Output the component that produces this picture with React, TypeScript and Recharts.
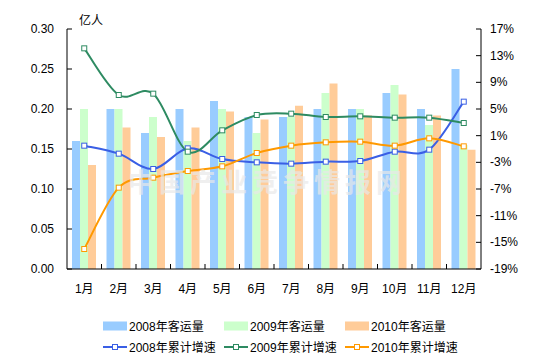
import React from 'react';
import { ComposedChart, Bar, Line, XAxis, YAxis, Legend } from 'recharts';

const months = ['1月', '2月', '3月', '4月', '5月', '6月', '7月', '8月', '9月', '10月', '11月', '12月'];
const pax2008 = [0.16, 0.2, 0.17, 0.2, 0.21, 0.19, 0.19, 0.2, 0.2, 0.22, 0.2, 0.25];
const pax2009 = [0.2, 0.2, 0.19, 0.16, 0.2, 0.17, 0.19, 0.22, 0.2, 0.23, 0.18, 0.155];
const pax2010 = [0.13, 0.177, 0.165, 0.177, 0.197, 0.187, 0.204, 0.232, 0.192, 0.218, 0.192, 0.149];
const growth2008 = [-0.5, -1.7, -4.0, -0.9, -2.5, -3.0, -3.2, -2.9, -2.8, -1.4, -1.1, 6.1];
const growth2009 = [14.1, 7.1, 7.3, -1.4, 1.8, 4.1, 4.3, 3.8, 3.9, 3.7, 3.7, 2.9];
const growth2010 = [-16.0, -6.8, -5.3, -4.3, -3.6, -1.6, -0.5, 0.0, 0.1, -0.5, 0.6, -0.6];
const leftTicks = [0, 0.05, 0.1, 0.15, 0.2, 0.25, 0.3];
const rightTicks = [-19, -15, -11, -7, -3, 1, 5, 9, 13, 17];

const data = months.map((m, i) => ({
  month: m,
  p2008: pax2008[i],
  p2009: pax2009[i],
  p2010: pax2010[i],
  g2008: growth2008[i],
  g2009: growth2009[i],
  g2010: growth2010[i],
}));

const FONT = '"Liberation Sans", Arial, "Noto Sans CJK SC", sans-serif';
const BAND = 414 / 12;

const barSeries = [
  { key: 'p2008', name: '2008年客运量', color: '#99CCFF' },
  { key: 'p2009', name: '2009年客运量', color: '#CCFFCC' },
  { key: 'p2010', name: '2010年客运量', color: '#FFCC99' },
];
const lineSeries = [
  { key: 'g2008', name: '2008年累计增速', color: '#3A5FE5' },
  { key: 'g2009', name: '2009年累计增速', color: '#2E8B62' },
  { key: 'g2010', name: '2010年累计增速', color: '#FF9900' },
];

const excelCurve = (context: any) => {
  let pts: [number, number][] = [];
  return {
    areaStart() {},
    areaEnd() {},
    lineStart() {
      pts = [];
    },
    lineEnd() {
      const n = pts.length;
      if (!n) return;
      context.moveTo(pts[0][0], pts[0][1]);
      const t = 1 / 6;
      for (let i = 0; i < n - 1; i++) {
        const p0 = pts[i - 1] || pts[i];
        const p1 = pts[i];
        const p2 = pts[i + 1];
        const p3 = pts[i + 2] || p2;
        context.bezierCurveTo(
          p1[0] + (p2[0] - p0[0]) * t,
          p1[1] + (p2[1] - p0[1]) * t,
          p2[0] - (p3[0] - p1[0]) * t,
          p2[1] - (p3[1] - p1[1]) * t,
          p2[0],
          p2[1]
        );
      }
    },
    point(x: number, y: number) {
      pts.push([x, y]);
    },
  };
};

const makeDot = (color: string) => (props: any) => {
  const { cx, cy, index } = props;
  if (cx == null || cy == null) return <g key={index} />;
  return (
    <rect key={index} x={cx - 2.5} y={cy - 2.5} width={5} height={5} fill="#fff" stroke={color} strokeWidth={1} />
  );
};

const LeftTick = (props: any) => {
  const { x, y, payload } = props;
  return (
    <g>
      <line x1={x} x2={x + 5} y1={y} y2={y} stroke="#000" />
      <text x={x - 13} y={y} dy={4} textAnchor="end" fontSize={12} fill="#000" fontFamily={FONT}>
        {Number(payload.value).toFixed(2)}
      </text>
    </g>
  );
};

const RightTick = (props: any) => {
  const { x, y, payload } = props;
  return (
    <g>
      <line x1={x - 5} x2={x} y1={y} y2={y} stroke="#000" />
      <text x={x + 9} y={y} dy={4} textAnchor="start" fontSize={12} fill="#000" fontFamily={FONT}>
        {`${payload.value}%`}
      </text>
    </g>
  );
};

const BottomTick = (props: any) => {
  const { x, y, payload, index } = props;
  return (
    <g>
      {index > 0 && <line x1={x - BAND / 2} x2={x - BAND / 2} y1={y} y2={y - 5} stroke="#000" />}
      <text x={x} y={y + 24} textAnchor="middle" fontSize={12} fill="#000" fontFamily={FONT}>
        {payload.value}
      </text>
    </g>
  );
};

const LegendContent = () => {
  const cell: React.CSSProperties = {
    display: 'flex',
    alignItems: 'center',
    height: 21,
    fontSize: 12,
    fontFamily: FONT,
    color: '#000',
    whiteSpace: 'nowrap',
  };
  return (
    <div style={{ display: 'grid', gridTemplateColumns: '121px 121px 121px', paddingLeft: 103 }}>
      {barSeries.map((s) => (
        <div key={s.key} style={cell}>
          <svg width={24} height={10} style={{ marginRight: 2 }}>
            <rect x={0} y={0.5} width={24} height={9} fill={s.color} />
          </svg>
          <span>{s.name}</span>
        </div>
      ))}
      {lineSeries.map((s) => (
        <div key={s.key} style={cell}>
          <svg width={24} height={10} style={{ marginRight: 2 }}>
            <line x1={0} x2={24} y1={5} y2={5} stroke={s.color} strokeWidth={2} />
            <rect x={9.5} y={2.5} width={5} height={5} fill="#fff" stroke={s.color} strokeWidth={1} />
          </svg>
          <span>{s.name}</span>
        </div>
      ))}
    </div>
  );
};

export default function App() {
  return (
    <div style={{ position: 'absolute', left: 0, top: 0, width: 544, height: 364, background: '#fff' }}>
      <div
        style={{
          position: 'absolute',
          left: 79,
          top: 11,
          fontSize: 12,
          fontFamily: FONT,
          color: '#000',
        }}
      >
        亿人
      </div>
      <ComposedChart
        width={544}
        height={364}
        data={data}
        margin={{ top: 29, right: 8, bottom: 65, left: 7 }}
        barGap={0}
      >
        <XAxis
          dataKey="month"
          xAxisId="x"
          interval={0}
          tickLine={false}
          tickSize={0}
          tickMargin={0}
          height={30}
          axisLine={{ stroke: '#000' }}
          tick={<BottomTick />}
        />
        <YAxis
          yAxisId="left"
          orientation="left"
          domain={[0, 0.3]}
          ticks={leftTicks}
          width={60}
          tickLine={false}
          tickSize={0}
          tickMargin={0}
          axisLine={{ stroke: '#000' }}
          tick={<LeftTick />}
        />
        <YAxis
          yAxisId="right"
          orientation="right"
          domain={[-19, 17]}
          ticks={rightTicks}
          width={55}
          tickLine={false}
          tickSize={0}
          tickMargin={0}
          axisLine={{ stroke: '#000' }}
          tick={<RightTick />}
        />
        {barSeries.map((s) => (
          <Bar
            key={s.key}
            dataKey={s.key}
            name={s.name}
            xAxisId="x"
            yAxisId="left"
            fill={s.color}
            barSize={8}
            isAnimationActive={false}
          />
        ))}
        {lineSeries.map((s) => (
          <Line
            key={s.key}
            dataKey={s.key}
            name={s.name}
            xAxisId="x"
            yAxisId="right"
            type={excelCurve as any}
            stroke={s.color}
            strokeWidth={2}
            dot={makeDot(s.color)}
            activeDot={false}
            isAnimationActive={false}
          />
        ))}
        <Legend
          layout="horizontal"
          verticalAlign="middle"
          align="center"
          wrapperStyle={{ top: 315, left: 0, width: 544 }}
          content={<LegendContent />}
        />
      </ComposedChart>
      <div
        style={{
          position: 'absolute',
          left: 128,
          top: 166,
          fontSize: 26,
          lineHeight: '30px',
          fontWeight: 'bold',
          letterSpacing: 5,
          whiteSpace: 'nowrap',
          fontFamily: '"Noto Sans CJK SC", sans-serif',
          color: 'rgba(232,232,232,0.7)',
          pointerEvents: 'none',
        }}
      >
        中国产业竞争情报网
      </div>
    </div>
  );
}
